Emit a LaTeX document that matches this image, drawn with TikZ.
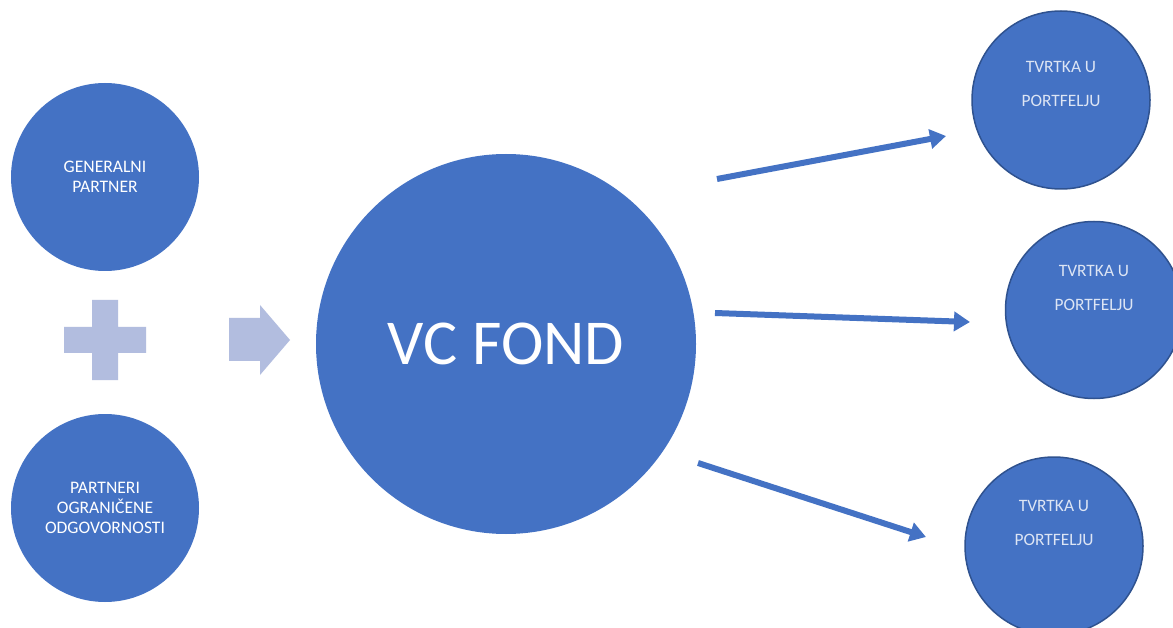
\documentclass[tikz,border=0pt]{standalone}
\usepackage{fontspec}
\setmainfont{Carlito}
\usetikzlibrary{arrows.meta}
\definecolor{acc}{HTML}{4472C4}
\definecolor{accdark}{HTML}{2F528F}
\definecolor{pale}{RGB}{178,189,223}
\definecolor{txtlight}{HTML}{DDE5F4}
\begin{document}
\begin{tikzpicture}[x=1pt,y=-1pt,
  blob/.style={circle, fill=acc, inner sep=0pt, minimum size=#1, align=center, text=white,
    font=\fontsize{17.6}{20}\selectfont},
  firm/.style={circle, fill=acc, draw=accdark, line width=1.5pt, inner sep=0pt, minimum size=#1},
  firmtext/.style={align=center, text=txtlight, inner sep=0pt, font=\fontsize{17.4}{34}\selectfont},
  conn/.style={draw=acc, line width=6pt, -{Triangle[length=16pt,width=19pt]}},
  paleshape/.style={fill=pale}]
\useasboundingbox (0,0) rectangle (1173,628);
\fill[white] (0,0) rectangle (1173,628);

% left partners
\node[blob=188] (gp) at (105,177) {GENERALNI\\PARTNER};
\node[blob=188] (lp) at (105,508) {PARTNERI\\OGRANIČENE\\ODGOVORNOSTI};

% plus sign
\path[paleshape] (92,300) -- (118,300) -- (118,327) -- (146,327) -- (146,353) -- (118,353)
  -- (118,380) -- (92,380) -- (92,353) -- (64,353) -- (64,327) -- (92,327) -- cycle;

% block arrow
\path[paleshape] (229,318) -- (260,318) -- (260,305) -- (290,340) -- (260,375) -- (260,361)
  -- (229,361) -- cycle;

% VC fund
\node[circle, fill=acc, inner sep=0pt, minimum size=380, text=white,
  font=\fontsize{64}{70}\selectfont] (vc) at (506,344) {VC FOND};

% portfolio companies
\node[firm=178] (t1) at (1061,100) {};
\node[firm=177] (t2) at (1094,310) {};
\node[firm=178] (t3) at (1054,546) {};
\node[firmtext] (t1txt) at (1061,84) {TVRTKA U\\PORTFELJU};
\node[firmtext] (t2txt) at (1094,288) {TVRTKA U\\PORTFELJU};
\node[firmtext] (t3txt) at (1054,523) {TVRTKA U\\PORTFELJU};

% connectors
\coordinate (a1s) at (717,179);
\coordinate (a1e) at (946,136);
\coordinate (a2s) at (715,313);
\coordinate (a2e) at (970,322);
\coordinate (a3s) at (698,463);
\coordinate (a3e) at (926,537);
\draw[conn] (a1s) -- (a1e);
\draw[conn] (a2s) -- (a2e);
\draw[conn] (a3s) -- (a3e);
\end{tikzpicture}
\end{document}
